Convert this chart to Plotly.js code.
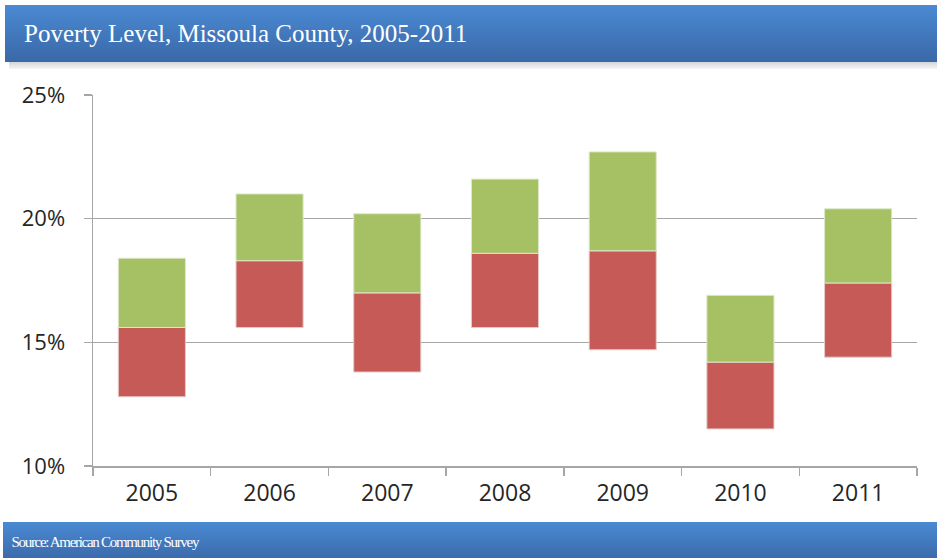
<!DOCTYPE html>
<html>
<head>
<meta charset="utf-8">
<script src="https://cdn.plot.ly/plotly-3.0.1.min.js"></script>
<style>
html,body{margin:0;padding:0;background:#fff;}
#chart{width:937px;height:558px;}
g.annotation[data-index="1"] text{letter-spacing:-1.3px;}
</style>
</head>
<body>
<div id="chart"></div>
<script>
const years = ["2005","2006","2007","2008","2009","2010","2011"];
const lowValues  = [12.8, 15.6, 13.8, 15.6, 14.7, 11.5, 14.4];
const midValues  = [15.6, 18.3, 17.0, 18.6, 18.7, 14.2, 17.4];
const highValues = [18.4, 21.0, 20.2, 21.6, 22.7, 16.9, 20.4];
const yTickValues = [10, 15, 20, 25];
const yTickLabels = ["10%", "15%", "20%", "25%"];

const redHeights = midValues.map((m, i) => +(m - lowValues[i]).toFixed(2));
const greenHeights = highValues.map((h, i) => +(h - midValues[i]).toFixed(2));

function gradientImage(top, bottom) {
  const svg = `<svg xmlns="http://www.w3.org/2000/svg" width="1000" height="100" preserveAspectRatio="none" viewBox="0 0 1000 100">` +
    `<defs><linearGradient id="g" x1="0" y1="0" x2="0" y2="1"><stop offset="0" stop-color="${top}"/><stop offset="1" stop-color="${bottom}"/></linearGradient></defs>` +
    `<rect x="0" y="0" width="1000" height="100" fill="url(#g)"/></svg>`;
  return "data:image/svg+xml;charset=utf-8," + encodeURIComponent(svg);
}

// plot area: x 93..917 (824 px), y 95..466 (371 px)
const PW = 824, PH = 371, L = 93, T = 95, B = 466;
const px = v => (v - L) / PW;
const py = v => (B - v) / PH;

const traces = [
  {
    type: "bar", x: years, y: redHeights, base: lowValues,
    marker: {color: "#c55a56", line: {color: "#e6c9c8", width: 1}},
    width: 0.57, hoverinfo: "skip", name: "low"
  },
  {
    type: "bar", x: years, y: greenHeights, base: midValues,
    marker: {color: "#a5c163", line: {color: "#dde8c8", width: 1}},
    width: 0.57, hoverinfo: "skip", name: "high"
  }
];

const layout = {
  width: 937, height: 558,
  margin: {l: 93, r: 20, t: 95, b: 92, pad: 0},
  paper_bgcolor: "#ffffff", plot_bgcolor: "#ffffff",
  showlegend: false,
  barmode: "overlay",
  font: {family: "Open Sans, sans-serif", color: "#262626"},
  xaxis: {
    type: "category",
    showgrid: false,
    showline: true, linecolor: "#a6a6a6", linewidth: 1.5,
    ticks: "outside", tickson: "boundaries", ticklen: 8, tickcolor: "#a6a6a6", tickwidth: 1.5,
    tickfont: {family: "Open Sans, sans-serif", size: 23, color: "#262626"},
    ticklabelstandoff: 6,
    zeroline: false
  },
  yaxis: {
    range: [10, 25],
    tickvals: yTickValues, ticktext: yTickLabels,
    showgrid: true, gridcolor: "#a6a6a6", gridwidth: 1.5,
    showline: true, linecolor: "#a6a6a6", linewidth: 1.5,
    ticks: "outside", ticklen: 8, tickcolor: "#a6a6a6", tickwidth: 1.5,
    tickfont: {family: "Open Sans, sans-serif", size: 22, color: "#262626"},
    ticklabelstandoff: 14,
    zeroline: false
  },
  images: [
    {source: gradientImage("#b8bcc2", "#f4f5f6"), xref: "paper", yref: "paper",
     x: px(9), y: py(58), sizex: 940 / PW, sizey: 11 / PH, sizing: "stretch",
     xanchor: "left", yanchor: "top", layer: "below", opacity: 0.9},
    {source: gradientImage("#4a8ad3", "#3a68a7"), xref: "paper", yref: "paper",
     x: px(5), y: py(5), sizex: 940 / PW, sizey: 57 / PH, sizing: "stretch",
     xanchor: "left", yanchor: "top", layer: "below"},
    {source: gradientImage("#4a8ad3", "#3a68a7"), xref: "paper", yref: "paper",
     x: px(3), y: py(522), sizex: 940 / PW, sizey: 40 / PH, sizing: "stretch",
     xanchor: "left", yanchor: "top", layer: "below"}
  ],
  annotations: [
    {text: "Poverty Level, Missoula County, 2005-2011", xref: "paper", yref: "paper",
     x: px(22), y: py(34), xanchor: "left", yanchor: "middle", showarrow: false,
     font: {family: "Liberation Serif, serif", size: 25, color: "#ffffff"}},
    {text: "Source: American Community Survey", xref: "paper", yref: "paper",
     x: px(-12), y: py(542), xanchor: "left", yanchor: "middle", showarrow: false,
     font: {family: "Liberation Serif, serif", size: 15, color: "#ffffff"}}
  ]
};

Plotly.newPlot("chart", traces, layout, {displayModeBar: false, staticPlot: true});
</script>
</body>
</html>
